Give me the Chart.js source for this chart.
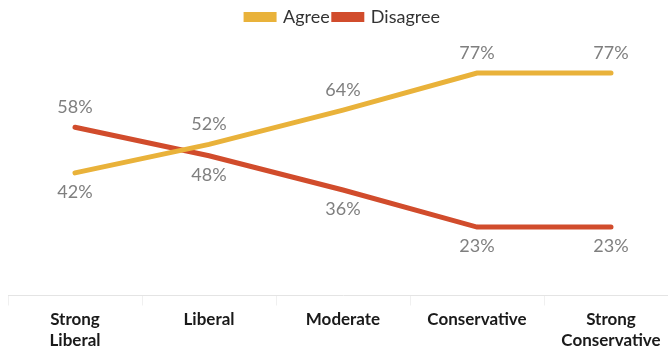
<!DOCTYPE html>
<html>
<head>
<meta charset="utf-8">
<script src="https://cdn.jsdelivr.net/npm/chart.js@4"></script>
<style>
  html, body { margin: 0; padding: 0; background: #fff; overflow: hidden; }
</style>
</head>
<body>
<canvas id="chart" width="678" height="354"></canvas>
<script>
const categories = [['Strong', 'Liberal'], 'Liberal', 'Moderate', 'Conservative', ['Strong', 'Conservative']];
const agreeData = [42, 52, 64, 77, 77];
const disagreeData = [58, 48, 36, 23, 23];
// label above (true) or below (false) each point
const agreeAbove = [false, true, true, true, true];
const disagreeAbove = [true, false, false, false, false];

const pointLabels = {
    id: 'pointLabels',
    afterDatasetsDraw(chart) {
        const ctx = chart.ctx;
        ctx.save();
        ctx.font = '18px Lato';
        ctx.fillStyle = '#7f7f7f';
        ctx.textAlign = 'center';
        chart.data.datasets.forEach((ds, i) => {
            const meta = chart.getDatasetMeta(i);
            meta.data.forEach((pt, j) => {
                const above = ds.labelAbove[j];
                ctx.textBaseline = above ? 'bottom' : 'top';
                ctx.fillText(ds.data[j] + '%', pt.x, above ? pt.y - 11 : pt.y + 10);
            });
        });
        ctx.restore();
    }
};

new Chart(document.getElementById('chart').getContext('2d'), {
    type: 'line',
    data: {
        labels: categories,
        datasets: [{
            label: 'Agree',
            data: agreeData,
            labelAbove: agreeAbove,
            borderColor: '#e9b23a',
            backgroundColor: '#e9b23a',
            borderWidth: 5,
            borderCapStyle: 'round',
            pointRadius: 0,
            tension: 0
        }, {
            label: 'Disagree',
            data: disagreeData,
            labelAbove: disagreeAbove,
            borderColor: '#d14c2c',
            backgroundColor: '#d14c2c',
            borderWidth: 5,
            borderCapStyle: 'round',
            pointRadius: 0,
            tension: 0
        }]
    },
    options: {
        responsive: false,
        animation: false,
        layout: {
            padding: { left: 8, right: 0, top: 4, bottom: 0 }
        },
        scales: {
            x: {
                offset: true,
                grid: {
                    drawOnChartArea: false,
                    drawTicks: true,
                    tickLength: 10,
                    color: '#f0f0f0',
                    offset: true
                },
                border: {
                    color: '#e4e4e4',
                    width: 1
                },
                ticks: {
                    color: '#1a1a1a',
                    padding: 3,
                    maxRotation: 0,
                    autoSkip: false,
                    font: {
                        family: 'Lato',
                        size: 17,
                        weight: 'bold',
                        lineHeight: 1.25
                    }
                }
            },
            y: {
                display: false,
                min: -1,
                max: 90
            }
        },
        plugins: {
            legend: {
                position: 'top',
                labels: {
                    color: '#333',
                    boxWidth: 28,
                    boxHeight: 5,
                    padding: 4,
                    font: {
                        family: 'Lato',
                        size: 18
                    }
                }
            },
            tooltip: { enabled: false }
        }
    },
    plugins: [pointLabels]
});
</script>
</body>
</html>
